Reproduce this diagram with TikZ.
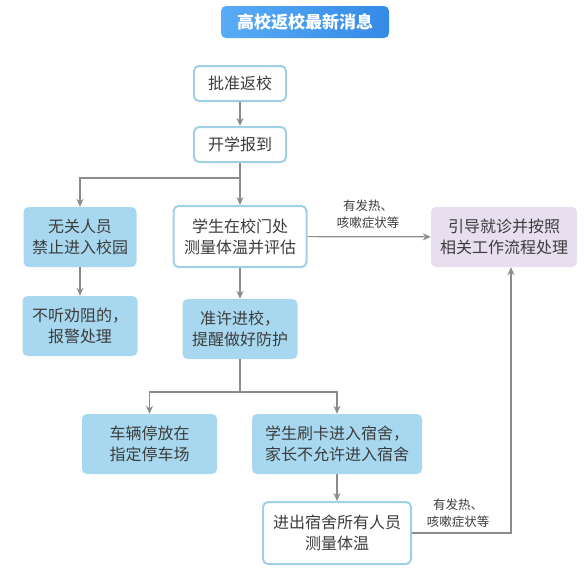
\documentclass[tikz,border=0pt]{standalone}
\usepackage{fontspec}
\setmainfont{Noto Sans CJK SC}
\usetikzlibrary{arrows.meta}
\definecolor{boxblue}{RGB}{168,216,239}
\definecolor{edgeblue}{RGB}{160,208,232}
\definecolor{boxlilac}{RGB}{231,222,240}
\definecolor{linegray}{RGB}{140,140,140}
\definecolor{textgray}{RGB}{60,60,60}
\definecolor{titlelight}{RGB}{88,172,246}
\definecolor{titledark}{RGB}{52,138,230}
\begin{document}
\begin{tikzpicture}[x=1pt,y=-1pt,every node/.style={font=\fontsize{16}{21}\selectfont,text=textgray},
  openbox/.style={draw=edgeblue, line width=2pt, fill=white, rounded corners=5pt, align=center, inner sep=0pt},
  fillbox/.style={fill=boxblue, rounded corners=5pt, align=center, inner sep=0pt},
  flow/.style={draw=linegray, line width=1.2pt, -{Stealth[length=8pt,width=7pt]}},
  note/.style={font=\fontsize{12.5}{17}\selectfont, align=center}]
\useasboundingbox (0,0) rectangle (584,570);
\node[left color=titlelight, right color=titledark, rounded corners=5pt, minimum width=168pt, minimum height=32pt, text=white, font=\fontsize{17}{20}\selectfont\bfseries] (title) at (305,22) {高校返校最新消息};

\node[openbox, minimum width=92pt, minimum height=35pt] (approve) at (240,83.5) {批准返校};
\node[openbox, minimum width=92pt, minimum height=35pt] (register) at (240,144.5) {开学报到};
\node[fillbox, minimum width=113pt, minimum height=60pt] (outsider) at (80,237) {无关人员\\禁止进入校园};
\node[openbox, minimum width=133pt, minimum height=61pt] (gate) at (240,236.5) {学生在校门处\\测量体温并评估};
\node[fillbox, minimum width=115pt, minimum height=60pt] (refuse) at (80,326) {不听劝阻的，\\报警处理};
\node[fillbox, minimum width=115pt, minimum height=60pt] (enter) at (240,329) {准许进校，\\提醒做好防护};
\node[fill=boxlilac, rounded corners=5pt, align=center, inner sep=0pt, minimum width=146pt, minimum height=60pt] (clinic) at (504,237) {引导就诊并按照\\相关工作流程处理};
\node[fillbox, minimum width=135pt, minimum height=60pt] (park) at (149.5,444) {车辆停放在\\指定停车场};
\node[fillbox, minimum width=170pt, minimum height=60pt] (dorm) at (337,444) {学生刷卡进入宿舍，\\家长不允许进入宿舍};
\node[openbox, minimum width=148pt, minimum height=62pt] (check) at (337,533) {进出宿舍所有人员\\测量体温};

\node[note] (fever1) at (368,214) {有发热、\\咳嗽症状等};
\node[note] (fever2) at (458,513) {有发热、\\咳嗽症状等};

\coordinate (split1) at (240,178);
\coordinate (split2) at (240,392);

\draw[flow] (approve) -- (register);
\draw[flow] (register) -- (gate);
\draw[flow] (split1) -| (outsider);
\draw[flow] (outsider) -- (refuse);
\draw[flow] (gate) -- (enter);
\draw[flow] (gate) -- (clinic);
\draw[draw=linegray, line width=1.2pt] (enter) -- (split2);
\draw[flow] (split2) -| (park);
\draw[flow] (split2) -| (dorm);
\draw[flow] (dorm) -- (check);
\draw[flow] (check) -| ([xshift=7pt]clinic.south);
\end{tikzpicture}
\end{document}
